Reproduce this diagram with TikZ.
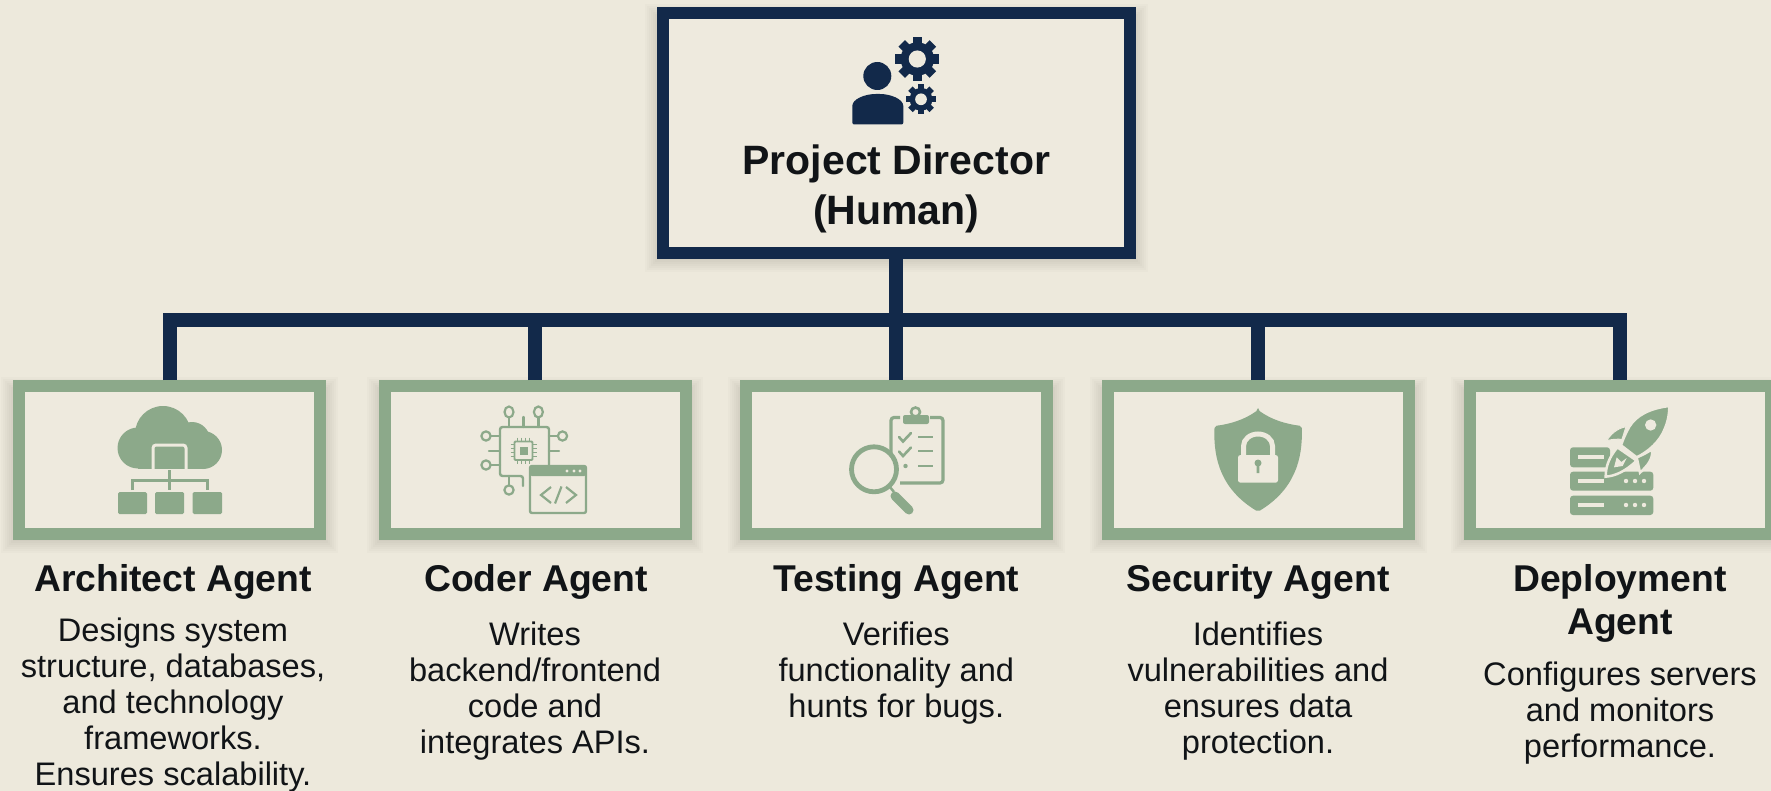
\documentclass[tikz,border=0pt]{standalone}
\usepackage{fontspec}
\setmainfont{Liberation Sans}
\definecolor{bgc}{HTML}{EDE9DC}
\definecolor{innerc}{HTML}{EEEADE}
\definecolor{navy}{HTML}{12294A}
\definecolor{sage}{HTML}{8CA98A}
\definecolor{inkc}{HTML}{111417}
\tikzset{
  dirbox/.style={draw=navy,line width=12pt,fill=innerc,minimum width=467pt,minimum height=240pt,inner sep=0pt,outer sep=6pt},
  agentbox/.style={draw=sage,line width=12pt,fill=innerc,minimum width=301pt,minimum height=148pt,inner sep=0pt,outer sep=6pt},
  conn/.style={draw=navy,line width=14pt,line join=miter},
  dirtitle/.style={font=\bfseries\fontsize{41}{50}\selectfont,text=inkc,align=center,inner sep=0pt},
  agenttitle/.style={font=\bfseries\fontsize{37.3}{43.5}\selectfont,text=inkc,align=center,inner sep=0pt},
  agentdesc/.style={font=\fontsize{32.6}{36}\selectfont,text=inkc,align=center,inner sep=0pt},
  pinline/.style={draw=sage,line width=2.4pt,line cap=round},
  pinring/.style={draw=sage,line width=2.2pt,fill=innerc}
}
\newcommand{\softshade}[4]{%
  \foreach \e in {-4,-2,0,2,4,6,8,10,12}{%
    \fill[black,opacity=0.014] (#1-\e,#2-\e+9) rectangle (#3+\e,#4+\e+1);}}
\newcommand{\gearshape}[4]{% cx cy R colour of hole
  \fill[navy] (#1,#2) circle[radius=0.76*#3];
  \foreach \a in {0,45,...,315}{%
    \fill[navy,shift={(#1,#2)},rotate=\a] (-0.21*#3,0) rectangle (0.21*#3,#3);}
  \fill[#4] (#1,#2) circle[radius=0.39*#3];}
\begin{document}
\begin{tikzpicture}[x=1pt,y=-1pt]
\useasboundingbox (0,0) rectangle (1771,791);
\clip (0,0) rectangle (1771,791);
\fill[bgc] (0,0) rectangle (1771,791);
% shadows
\softshade{657}{7}{1136}{259}
\softshade{13}{380}{326}{540}
\softshade{379}{380}{691}{540}
\softshade{740}{380}{1053}{540}
\softshade{1102}{380}{1415}{540}
\softshade{1463}{380}{1777}{540}
% boxes
\node[dirbox] (director) at (896.3,133) {};
\node[agentbox] (architect) at (169.5,460) {};
\node[agentbox] (coder) at (535,460) {};
\node[agentbox] (testing) at (896.3,460) {};
\node[agentbox] (security) at (1258,460) {};
\node[agentbox] (deployment) at (1620,460) {};
% connectors
\coordinate (bus) at (896.3,320);
\draw[conn] (director.south) -- (bus);
\draw[conn] (testing.north) -- (bus);
\draw[conn] (architect.north) |- (bus);
\draw[conn] (coder.north) |- (bus);
\draw[conn] (deployment.north) |- (bus);
\draw[conn] (security.north) |- (bus);
% director icon
\fill[navy] (877.3,76) circle[radius=14];
\fill[navy,rounded corners=2pt] (852.3,124.5) -- (852.3,108) .. controls (852.3,99) and (865,94) .. (877.8,94) .. controls (890.5,94) and (903.3,99) .. (903.3,108) -- (903.3,124.5) -- cycle;
\gearshape{917.3}{59}{22}{innerc}
\gearshape{921}{99.3}{15}{innerc}
% architect icon
\fill[sage] (163,434) circle[radius=28];
\fill[sage] (192,440) circle[radius=18];
\fill[sage] (138,448) circle[radius=20.5];
\fill[sage] (203,450) circle[radius=19];
\fill[sage] (138,445) rectangle (203,469);
\fill[sage,draw=innerc,line width=3pt,rounded corners=3pt] (153,471) -- (153,445) -- (186,445) -- (186,471);
\fill[innerc] (150,469) rectangle (189,472);
\draw[sage,line width=3pt] (169.5,470) -- (169.5,490);
\draw[sage,line width=3pt] (132,490) -- (132,480) -- (207,480) -- (207,490);
\fill[sage,rounded corners=1.5pt] (118,492) rectangle (147,514);
\fill[sage,rounded corners=1.5pt] (155,492) rectangle (184,514);
\fill[sage,rounded corners=1.5pt] (192.5,492) rectangle (222,514);
% coder icon
\draw[pinline,rounded corners=2.5pt] (549,468) -- (549,427) -- (500,427) -- (500,476) -- (523,476) -- (523,486);
\draw[pinline] (509,417) -- (509,427) (538.4,417) -- (538.4,427) (523.6,417) -- (523.6,427);
\draw[pinline] (491,436) -- (500,436) (491,465) -- (500,465) (489,451) -- (500,451);
\draw[pinline] (549,436) -- (558,436) (549,451) -- (559,451);
\draw[pinline] (509,476) -- (509,485);
\draw[pinring] (509,412) ellipse[x radius=4.5,y radius=5.5];
\draw[pinring] (538.4,412) ellipse[x radius=4.5,y radius=5.5];
\draw[pinring] (486,436) circle[radius=4.6];
\draw[pinring] (486,465) circle[radius=4.6];
\draw[pinring] (562.5,436) circle[radius=4.6];
\draw[pinring] (509,490) circle[radius=4.6];
\draw[sage,line width=1.8pt,rounded corners=1pt] (514.5,441.5) rectangle (532.5,460);
\fill[sage] (519.5,446.5) rectangle (527.5,455);
\foreach \d in {-6,-2,2,6}{%
  \draw[sage,line width=1.2pt] (523.5+\d,437.5) -- (523.5+\d,441.5) (523.5+\d,460) -- (523.5+\d,464);
  \draw[sage,line width=1.2pt] (510.5,450.7+\d) -- (514.5,450.7+\d) (532.5,450.7+\d) -- (536.5,450.7+\d);}
\draw[sage,line width=2.4pt,fill=innerc,rounded corners=2pt] (530,466) rectangle (586,513);
\fill[sage,rounded corners=2pt] (530,466) rectangle (586,476);
\foreach \d in {567,574,580}{\fill[innerc] (\d,471) circle[radius=1.6];}
\draw[sage,line width=2.2pt] (551,487) -- (541,495) -- (551,503);
\draw[sage,line width=2.2pt] (555,503.5) -- (561.5,486.5);
\draw[sage,line width=2.2pt] (566,487) -- (576,495) -- (566,503);
% testing icon
\draw[sage,line width=3.2pt,rounded corners=3pt] (900,417.5) -- (891,417.5) -- (891,455);
\draw[sage,line width=3.2pt,rounded corners=3pt] (930,417.5) -- (943,417.5) -- (943,483) -- (900,483);
\fill[sage,rounded corners=2pt] (903,415) rectangle (929,424);
\draw[sage,line width=2.6pt] (915.5,412) circle[radius=4.5];
\draw[sage,line width=2.6pt,line cap=round] (899,437) -- (903,441.5) -- (911,433);
\draw[sage,line width=2.6pt,line cap=round] (899,451.5) -- (903,456) -- (911,447.5);
\fill[sage] (905.5,466) circle[radius=2.2];
\foreach \yy in {437,451,466}{\draw[sage,line width=2.8pt] (918,\yy) -- (933,\yy);}
\draw[sage,line width=4.8pt,fill=innerc] (874,469.3) circle[radius=22.5];
\draw[sage,line width=2.5pt] (889,486) -- (894,492);
\draw[sage,line width=9pt,line cap=round] (895,496) -- (909,510);
% security icon
\fill[sage,rounded corners=2pt] (1258,410) .. controls (1244,420) and (1230,424) .. (1214.6,426) .. controls (1213,460) and (1222,490) .. (1258,511.7) .. controls (1294,490) and (1303,460) .. (1301.7,426) .. controls (1286,424) and (1272,420) .. (1258,410) -- cycle;
\draw[innerc,line width=5pt] (1243.5,456) -- (1243.5,446) arc[start angle=180,end angle=360,x radius=14.5,y radius=12] -- (1272.5,456);
\fill[innerc,rounded corners=2.5pt] (1238,455) rectangle (1278,482.7);
\fill[sage] (1258,463) circle[radius=3.5];
\fill[sage] (1256.5,463) -- (1259.5,463) -- (1259.3,473) -- (1256.7,473) -- cycle;
% deployment icon
\fill[sage,rounded corners=3pt] (1570,447.3) rectangle (1610,467.3);
\fill[sage,rounded corners=3pt] (1570,471.7) rectangle (1653.3,490.7);
\fill[sage,rounded corners=3pt] (1570,495.7) rectangle (1653.3,515);
\foreach \yy in {457.3,481,505}{\fill[innerc] (1577.7,\yy-2) rectangle (1604.3,\yy+2);}
\foreach \yy in {481,505}{\foreach \xx in {1626,1635,1644}{\fill[innerc] (\xx,\yy) circle[radius=2.2];}}
\begin{scope}[shift={(1440,370)},xscale=1/3,yscale=1/3]
  \fill[sage,draw=innerc,line width=2.5pt] (532,232) .. controls (507,262) and (497,290) .. (497,320) .. controls (525,318) and (555,305) .. (590,272) -- cycle;
  \fill[innerc] (530,262) -- (544,276) -- (560,264) -- (548,288) -- (522,292) -- cycle;
  \fill[sage,draw=innerc,line width=2.5pt] (590,262) .. controls (620,250) and (632,240) .. (636,238) .. controls (640,265) and (625,285) .. (600,308) -- cycle;
  \fill[sage,draw=innerc,line width=1pt] (558,170) .. controls (530,175) and (510,195) .. (500,212) .. controls (515,208) and (530,207) .. (546,208) -- cycle;
  \fill[sage,draw=innerc,line width=2.5pt] (688,108) .. controls (630,115) and (590,135) .. (568,170) .. controls (558,188) and (550,205) .. (543,226) -- (590,262) .. controls (625,245) and (660,215) .. (675,175) .. controls (685,150) and (688,130) .. (688,108) -- cycle;
  \fill[innerc] (632,165) circle[radius=17];
\end{scope}
% texts
\node[dirtitle,anchor=north] (dirlabel) at (896.3,145) {Project Director\\(Human)};
\node[agenttitle,anchor=north] (t1) at (173,564) {Architect Agent};
\node[agenttitle,anchor=north] (t2) at (536,564) {Coder Agent};
\node[agenttitle,anchor=north] (t3) at (896.3,564) {Testing Agent};
\node[agenttitle,anchor=north] (t4) at (1258,564) {Security Agent};
\node[agenttitle,anchor=north] (t5) at (1620,564) {Deployment\\Agent};
\node[agentdesc,anchor=north] (d1) at (173,617.5) {Designs system\\structure, databases,\\and technology\\frameworks.\\Ensures scalability.};
\node[agentdesc,anchor=north] (d2) at (535,622) {Writes\\backend/frontend\\code and\\integrates APIs.};
\node[agentdesc,anchor=north] (d3) at (896.3,622) {Verifies\\functionality and\\hunts for bugs.};
\node[agentdesc,anchor=north] (d4) at (1258,622) {Identifies\\vulnerabilities and\\ensures data\\protection.};
\node[agentdesc,anchor=north] (d5) at (1620,662) {Configures servers\\and monitors\\performance.};
\end{tikzpicture}
\end{document}
